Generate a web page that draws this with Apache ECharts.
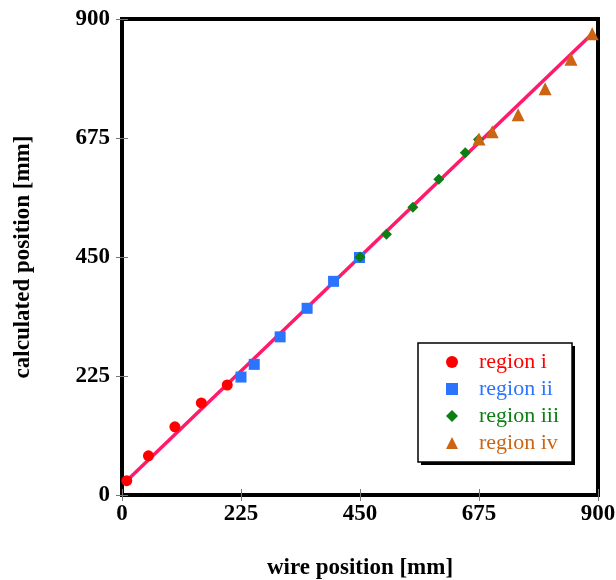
<!DOCTYPE html>
<html>
<head>
<meta charset="utf-8">
<script src="https://cdn.jsdelivr.net/npm/echarts@6/dist/echarts.min.js"></script>
<style>
  html, body { margin: 0; padding: 0; background: #fff; }
  #main { width: 616px; height: 580px; }
</style>
</head>
<body>
<div id="main"></div>
<script>
// values
const axisTicks = [0, 225, 450, 675, 900]
const regionNames = ['region i', 'region ii', 'region iii', 'region iv']

const region1X = [9, 50, 100, 150, 199]
const region1Y = [27, 74, 129, 174, 208]
const region2X = [225, 250, 299, 350, 400, 449]
const region2Y = [223, 247, 299, 353, 404, 449]
const region3X = [450, 500, 550, 599, 649, 674]
const region3Y = [450, 493, 544, 597, 647, 672]
const region4X = [675, 700, 749, 800, 849, 889]
const region4Y = [673, 687, 719, 768, 824, 872]

// straight fit through all points
const fitX = [9, 889]
const fitY = [27, 872]

const colors = ['#ff0000', '#2a74ff', '#0b7f12', '#cc6512']
const symbols = ['circle', 'rect', 'diamond', 'triangle']
const sizes = [11, 11, 11, 13]
const serif = '"Liberation Serif", "DejaVu Serif", serif'

function pairs (xs, ys) {
  return xs.map((x, i) => [x, ys[i]])
}
const regionData = [
  pairs(region1X, region1Y),
  pairs(region2X, region2Y),
  pairs(region3X, region3Y),
  pairs(region4X, region4Y)
]

const chart = echarts.init(document.getElementById('main'))

const tickStyle = { show: true, inside: true, length: 6, lineStyle: { color: '#777', width: 1 } }
const labelStyle = { fontFamily: serif, fontWeight: 'bold', fontSize: 23, color: '#000' }
const nameStyle = { fontFamily: serif, fontWeight: 'bold', fontSize: 23, color: '#000' }

function valueAxis (extra) {
  return Object.assign({
    type: 'value',
    min: axisTicks[0],
    max: axisTicks[axisTicks.length - 1],
    interval: axisTicks[1] - axisTicks[0],
    splitLine: { show: false },
    axisLine: { show: false },
    axisTick: tickStyle
  }, extra)
}

const series = [{
  type: 'line',
  data: pairs(fitX, fitY),
  showSymbol: false,
  symbol: 'none',
  lineStyle: { color: '#ff1a6c', width: 3.5 },
  z: 1,
  silent: true
}]
regionNames.forEach((name, i) => {
  series.push({
    name: name,
    type: 'scatter',
    data: regionData[i],
    symbol: symbols[i],
    symbolSize: sizes[i],
    itemStyle: { color: colors[i], opacity: 1 },
    z: 2
  })
})

chart.setOption({
  animation: false,
  grid: {
    left: 122,
    right: 18,
    top: 19,
    bottom: 85,
    outerBoundsMode: 'none',
    containLabel: false,
    show: true,
    borderColor: '#000',
    borderWidth: 4
  },
  xAxis: [
    valueAxis({
      position: 'bottom',
      axisLabel: Object.assign({ margin: 8 }, labelStyle),
      name: 'wire position [mm]',
      nameLocation: 'middle',
      nameGap: 62,
      nameTextStyle: nameStyle
    }),
    valueAxis({ position: 'top', axisLabel: { show: false } })
  ],
  yAxis: [
    valueAxis({
      position: 'left',
      axisLabel: Object.assign({ margin: 12 }, labelStyle),
      name: 'calculated position [mm]',
      nameLocation: 'middle',
      nameGap: 87,
      nameTextStyle: nameStyle
    }),
    valueAxis({ position: 'right', axisLabel: { show: false } })
  ],
  // drop shadow behind the legend box
  graphic: [{
    type: 'rect',
    left: 421,
    top: 346,
    z: 5,
    shape: { width: 154, height: 119 },
    style: { fill: '#000' },
    silent: true
  }],
  legend: {
    orient: 'vertical',
    left: 418,
    top: 343,
    z: 10,
    padding: [8, 13, 8, 28],
    itemWidth: 12,
    itemHeight: 12,
    itemGap: 5,
    backgroundColor: '#fff',
    borderColor: '#000',
    borderWidth: 1.5,
    textStyle: { fontFamily: serif, fontSize: 22, padding: [0, 0, 0, 16] },
    data: regionNames.map((name, i) => ({
      name: name,
      icon: symbols[i],
      itemStyle: { color: colors[i] },
      textStyle: { color: colors[i] }
    }))
  },
  series: series
})
</script>
</body>
</html>
